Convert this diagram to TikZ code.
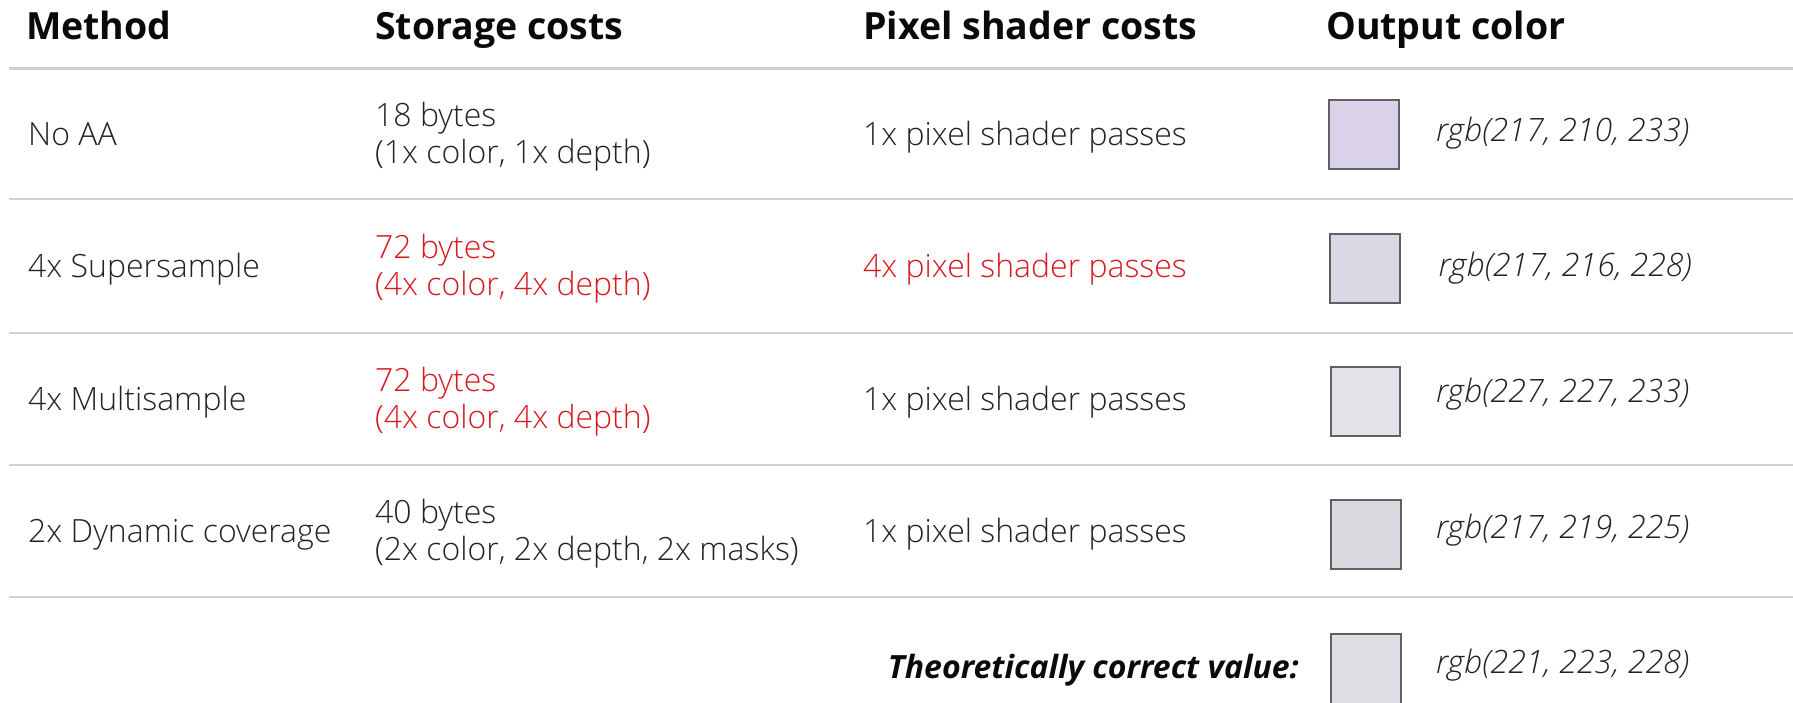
\documentclass[tikz,border=0pt]{standalone}
\usepackage{fontspec}
\setmainfont{Open Sans Light}[BoldFont={Open Sans Bold},ItalicFont={Open Sans Light Italic},BoldItalicFont={Open Sans Bold Italic}]
\definecolor{txt}{RGB}{34,34,34}
\definecolor{hdr}{RGB}{10,10,10}
\definecolor{redtxt}{RGB}{215,25,30}
\definecolor{rulegray}{RGB}{208,208,208}
\definecolor{swborder}{RGB}{96,96,96}
\definecolor{sA}{RGB}{217,210,233}
\definecolor{sB}{RGB}{217,216,228}
\definecolor{sC}{RGB}{227,227,233}
\definecolor{sD}{RGB}{217,219,225}
\definecolor{sE}{RGB}{221,223,228}
\begin{document}
\begin{tikzpicture}[x=1pt,y=-1pt,
  hd/.style={anchor=base west,inner sep=0pt,text=hdr,font=\fontsize{37.5}{44}\selectfont\bfseries},
  cell/.style={anchor=base west,inner sep=0pt,text=txt,font=\fontsize{32}{37}\selectfont},
  redcell/.style={cell,text=redtxt},
  rgbtxt/.style={anchor=base west,inner sep=0pt,text=txt,font=\fontsize{32.2}{37}\selectfont\itshape},
  rowrule/.style={draw=rulegray,line width=2.5pt},
  swatch/.style={draw=swborder,line width=2pt,minimum width=69.5pt,minimum height=69.5pt,inner sep=0pt,anchor=center}]
\useasboundingbox (0,0) rectangle (1793,702);
\clip (0,0) rectangle (1793,702);
% header
\node[hd] (h1) at (26,39) {Method};
\node[hd] (h2) at (375,39) {Storage costs};
\node[hd] (h3) at (863,39) {Pixel shader costs};
\node[hd] (h4) at (1326,39) {Output color};
% rules
\draw[rowrule] (9,68.5) -- (1793,68.5);
\draw[rowrule] (9,199) -- (1793,199);
\draw[rowrule] (9,333) -- (1793,333);
\draw[rowrule] (9,465) -- (1793,465);
\draw[rowrule] (9,597) -- (1793,597);
% row 1
\node[cell] (m1) at (28,145) {No AA};
\node[cell] (s1a) at (375,126.5) {18 bytes};
\node[cell] (s1b) at (375,163.5) {(1x color, 1x depth)};
\node[cell] (p1) at (863,145) {1x pixel shader passes};
\node[swatch,fill=sA] (c1) at (1364,134.5) {};
\node[rgbtxt] (r1) at (1436,141.5) {rgb(217, 210, 233)};
% row 2
\node[cell] (m2) at (28,277) {4x Supersample};
\node[redcell] (s2a) at (375,258.5) {72 bytes};
\node[redcell] (s2b) at (375,295.5) {(4x color, 4x depth)};
\node[redcell] (p2) at (863,277) {4x pixel shader passes};
\node[swatch,fill=sB] (c2) at (1365,268.5) {};
\node[rgbtxt] (r2) at (1438.5,276.5) {rgb(217, 216, 228)};
% row 3
\node[cell] (m3) at (28,410) {4x Multisample};
\node[redcell] (s3a) at (375,391.5) {72 bytes};
\node[redcell] (s3b) at (375,428.5) {(4x color, 4x depth)};
\node[cell] (p3) at (863,410) {1x pixel shader passes};
\node[swatch,fill=sC] (c3) at (1365.5,401.5) {};
\node[rgbtxt] (r3) at (1436,402) {rgb(227, 227, 233)};
% row 4
\node[cell] (m4) at (28,542) {2x Dynamic coverage};
\node[cell] (s4a) at (375,523.5) {40 bytes};
\node[cell] (s4b) at (375,560.5) {(2x color, 2x depth, 2x masks)};
\node[cell] (p4) at (863,542) {1x pixel shader passes};
\node[swatch,fill=sD] (c4) at (1366,534.5) {};
\node[rgbtxt] (r4) at (1436,538) {rgb(217, 219, 225)};
% row 5
\node[anchor=base east,inner sep=0pt,text=hdr,font=\fontsize{32}{38}\selectfont\bfseries\itshape] (t5) at (1299,678) {Theoretically correct value:};
\node[swatch,fill=sE] (c5) at (1366,669) {};
\node[rgbtxt] (r5) at (1436,673) {rgb(221, 223, 228)};
\end{tikzpicture}
\end{document}
